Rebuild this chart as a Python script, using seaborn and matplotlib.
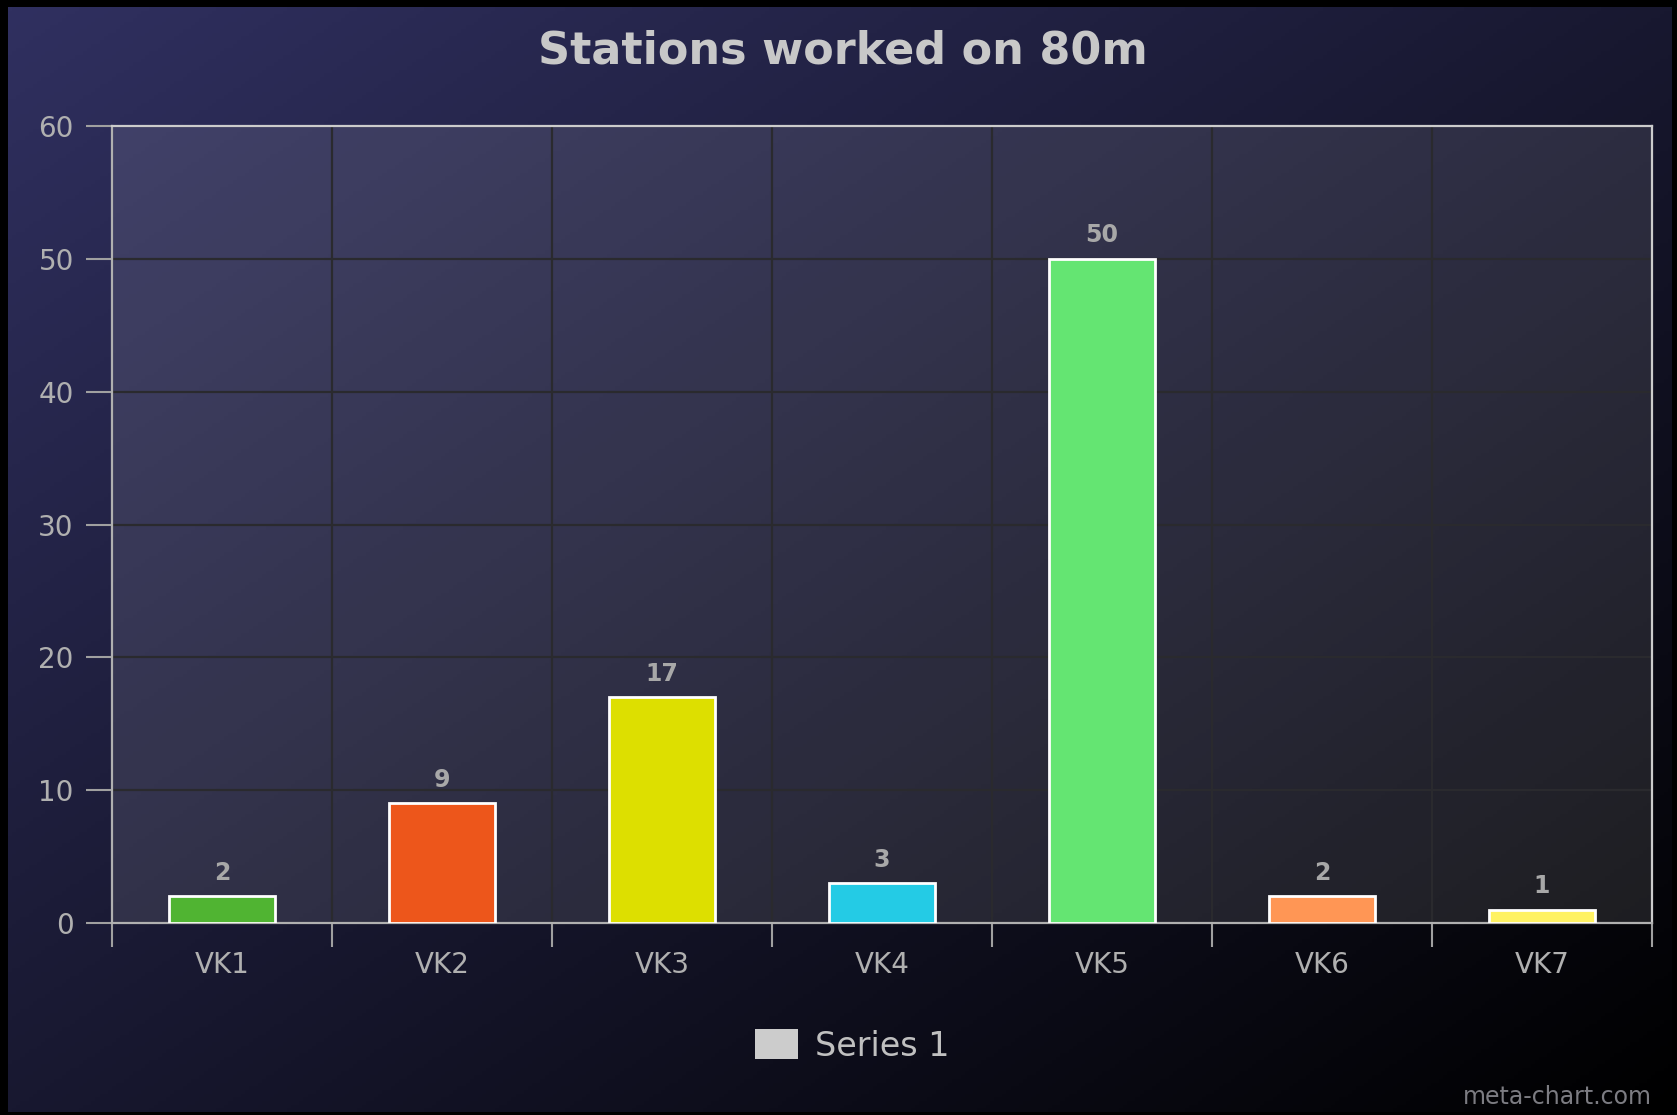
import numpy as np
import pandas as pd
import seaborn as sns
import matplotlib.pyplot as plt
from matplotlib.patches import Patch

categories = ['VK1', 'VK2', 'VK3', 'VK4', 'VK5', 'VK6', 'VK7']
values = [2, 9, 17, 3, 50, 2, 1]
colors = ['#50B432', '#ED561B', '#DDDF00', '#24CBE5', '#64E572', '#FF9655', '#FFF263']
y_ticks = [0, 10, 20, 30, 40, 50, 60]
title = 'Stations worked on 80m'
series_name = 'Series 1'

df = pd.DataFrame({'Region': categories, 'Stations': values})

W, H = 1677, 1115
fig = plt.figure(figsize=(W / 100, H / 100), dpi=100, facecolor='black')

# outer gradient background (top-left navy -> bottom-right black)
bg = fig.add_axes([8 / W, 3 / H, (1672 - 8) / W, (1108 - 3) / H], zorder=-10)
u, v = np.meshgrid(np.linspace(0, 1, 400), np.linspace(0, 1, 300))
t = (u + v) / 2
start = np.array([48, 48, 96]) / 255
grad = start[None, None, :] * (1 - t[..., None])
bg.imshow(grad, aspect='auto', extent=[0, 1, 0, 1], origin='upper')
bg.axis('off')

ax = fig.add_axes([112 / W, 1 - 923 / H, (1652 - 112) / W, (923 - 126) / H])
ax.set_facecolor((1, 1, 1, 0.1))

sns.barplot(data=df, x='Region', y='Stations', hue='Region', palette=colors,
            saturation=1, legend=False, width=0.48, edgecolor='white',
            linewidth=2, ax=ax, zorder=3)

for i, val in enumerate(values):
    ax.annotate(str(val), (i, val), xytext=(0, 17), textcoords='offset points',
                ha='center', va='center', fontsize=17, fontweight='bold',
                color='#a8a8a8', zorder=5)

ax.set_xlim(-0.5, len(categories) - 0.5)
ax.set_ylim(0, 60)
ax.set_yticks(y_ticks)
ax.set_yticklabels([str(y) for y in y_ticks])
ax.set_xticks(np.arange(len(categories) + 1) - 0.5)
ax.set_xticklabels([])
ax.set_xticks(np.arange(len(categories)), minor=True)
ax.set_xticklabels(categories, minor=True)
ax.set_xlabel('')
ax.set_ylabel('')

ax.grid(True, which='major', color='#2a2a2e', linewidth=1.6, zorder=0)
ax.set_axisbelow(True)
ax.tick_params(axis='y', which='major', length=18.5, width=1.5, color='#a0a0a0',
               labelcolor='#b0b0b0', labelsize=20, pad=9)
ax.tick_params(axis='x', which='major', length=17, width=1.5, color='#a0a0a0')
ax.tick_params(axis='x', which='minor', length=0, labelcolor='#b0b0b0',
               labelsize=20, pad=20)

for side in ['top', 'right']:
    ax.spines[side].set_color('#cccccc')
    ax.spines[side].set_linewidth(1.6)
for side in ['left', 'bottom']:
    ax.spines[side].set_color('#b0b0b0')
    ax.spines[side].set_linewidth(1.6)

fig.text(843 / W, 1 - 51 / H, title, ha='center', va='center', fontsize=32,
         fontweight='bold', color='#c8c8c8')

leg = fig.legend(handles=[Patch(facecolor='#cccccc', edgecolor='none', label=series_name)],
                 loc='center', bbox_to_anchor=(852 / W, 1 - 1046 / H), frameon=False,
                 fontsize=24, labelcolor='#c0c0c0', handlelength=1.3, handleheight=1.0,
                 handletextpad=0.5)

fig.text(1652 / W, 1 - 1097 / H, 'meta-chart.com', ha='right', va='center',
         fontsize=17, color='#7c7c82')

fig.savefig('out.png', dpi=100, facecolor=fig.get_facecolor())
